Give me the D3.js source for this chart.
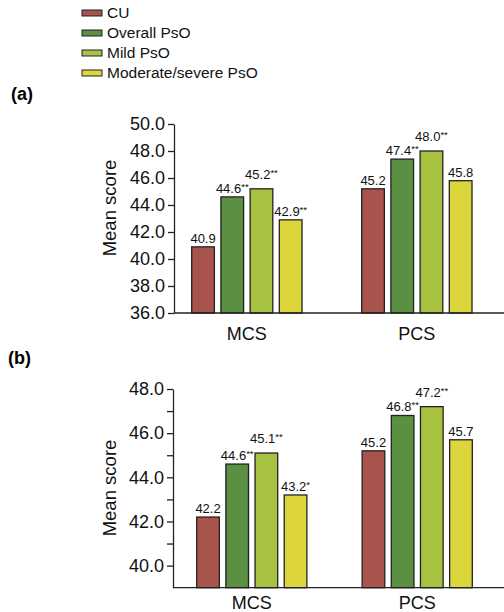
<!DOCTYPE html>
<html>
<head>
<meta charset="utf-8">
<title>Mean score by group</title>
<script src="https://cdnjs.cloudflare.com/ajax/libs/d3/7.8.5/d3.min.js"></script>
<style>
    body { margin: 0; background: #fff; }
    svg { font-family: "Liberation Sans", Arial, Helvetica, sans-serif; }
</style>
</head>
<body>
<svg id="chart" width="504" height="612"></svg>

<script>
    /// data
    const groups = ["MCS", "PCS"];
    const series = ["CU", "Overall PsO", "Mild PsO", "Moderate/severe PsO"];
    const colors = ["#a9534d", "#5b8f41", "#a7c241", "#dcd63c"];

    const mcsA = [40.9, 44.6, 45.2, 42.9];
    const pcsA = [45.2, 47.4, 48.0, 45.8];
    const mcsSigA = ["", "**", "**", "**"];
    const pcsSigA = ["", "**", "**", ""];
    const ticksA = [36, 38, 40, 42, 44, 46, 48, 50];

    const mcsB = [42.2, 44.6, 45.1, 43.2];
    const pcsB = [45.2, 46.8, 47.2, 45.7];
    const mcsSigB = ["", "**", "**", "*"];
    const pcsSigB = ["", "**", "**", ""];
    const ticksB = [40, 42, 44, 46, 48];
    const minorTicksB = [41, 43, 45, 47];

    const svg = d3.select("#chart");
    const ink = "#222";

    /// legend
    const legend = svg.append("g");
    series.forEach((s, i) => {
        const row = legend.append("g").attr("transform", `translate(82, ${10 + i * 20})`);
        row.append("rect")
            .attr("width", 20).attr("height", 6)
            .attr("fill", colors[i]).attr("stroke", ink).attr("stroke-width", 1);
        row.append("text")
            .attr("x", 25).attr("y", 3).attr("dy", "0.35em")
            .style("font-size", "15.5px").attr("fill", "#111")
            .text(s);
    });

    function panel(opts) {
        const g = svg.append("g");

        g.append("text")
            .attr("x", opts.tagX).attr("y", opts.tagY)
            .style("font-size", "18px").style("font-weight", "bold")
            .text(opts.tag);

        const y = d3.scaleLinear().domain(opts.domain).range([opts.bottom, opts.top]);

        const x0 = d3.scaleBand().domain(groups)
            .range([opts.left, opts.right]).paddingInner(opts.groupPad);
        const x1 = d3.scaleBand().domain(series)
            .range([0, x0.bandwidth()]).paddingInner(0.223);

        /// y axis
        const yAxis = g.append("g")
            .attr("transform", `translate(${opts.axisX},0)`)
            .call(d3.axisLeft(y).tickValues(opts.ticks).tickFormat(d3.format(".1f"))
                .tickSize(6).tickSizeOuter(0).tickPadding(3));
        if (opts.minor) {
            g.append("g")
                .attr("transform", `translate(${opts.axisX},0)`)
                .call(d3.axisLeft(y).tickValues(opts.minor).tickFormat("").tickSize(6).tickSizeOuter(0))
                .select(".domain").remove();
        }
        g.selectAll(".tick line, .domain").attr("stroke", ink).attr("stroke-width", 1.3);
        yAxis.selectAll("text").style("font-size", "18px").attr("fill", "#111").attr("font-family", null);

        g.append("text")
            .attr("transform", `translate(${opts.titleX},${opts.titleY}) rotate(-90)`)
            .attr("text-anchor", "middle").attr("dy", "0.35em")
            .style("font-size", "18.5px").attr("fill", "#111")
            .text("Mean score");

        /// bars
        const rows = groups.map((grp, gi) => ({
            group: grp,
            values: opts.values[gi].map((v, si) => ({ s: series[si], v: v, sig: opts.sig[gi][si], i: si }))
        }));

        const grp = g.selectAll(".grp").data(rows).join("g")
            .attr("transform", d => `translate(${x0(d.group)},0)`);

        grp.selectAll("rect").data(d => d.values).join("rect")
            .attr("x", d => x1(d.s))
            .attr("y", d => y(d.v))
            .attr("width", x1.bandwidth())
            .attr("height", d => y(opts.domain[0]) - y(d.v))
            .attr("fill", d => colors[d.i])
            .attr("stroke", ink).attr("stroke-width", 1.3);

        const lbl = grp.selectAll("text.val").data(d => d.values).join("text")
            .attr("class", "val")
            .attr("x", d => x1(d.s) + x1.bandwidth() / 2)
            .attr("y", d => y(d.v) - (d.i === 2 ? 10 : 4))
            .attr("text-anchor", "middle")
            .style("font-size", "13px").attr("fill", "#111");
        lbl.append("tspan").text(d => d.v.toFixed(1));
        lbl.append("tspan")
            .attr("dy", -3).style("font-size", "9.5px")
            .text(d => d.sig);

        /// baseline and category labels
        g.append("line")
            .attr("x1", opts.axisX).attr("x2", 504)
            .attr("y1", y(opts.domain[0])).attr("y2", y(opts.domain[0]))
            .attr("stroke", ink).attr("stroke-width", 1.3);

        const xAxis = g.append("g")
            .attr("transform", `translate(0,${y(opts.domain[0])})`)
            .call(d3.axisBottom(x0).tickSize(0).tickPadding(opts.catPad));
        xAxis.select(".domain").remove();
        xAxis.selectAll("text").style("font-size", "18px").attr("fill", "#111").attr("font-family", null);
    }

    panel({
        tag: "(a)", tagX: 11, tagY: 100,
        domain: [36, 50], top: 124, bottom: 313,
        axisX: 174, left: 191.7, right: 472, groupPad: 0.351,
        ticks: ticksA, minor: null,
        titleX: 110, titleY: 208,
        values: [mcsA, pcsA], sig: [mcsSigA, pcsSigA],
        catPad: 14
    });

    panel({
        tag: "(b)", tagX: 8, tagY: 364,
        domain: [39, 48], top: 389, bottom: 587.7,
        axisX: 173, left: 196.7, right: 472.3, groupPad: 0.334,
        ticks: ticksB, minor: minorTicksB,
        titleX: 110, titleY: 488,
        values: [mcsB, pcsB], sig: [mcsSigB, pcsSigB],
        catPad: 9
    });
</script>
</body>
</html>
